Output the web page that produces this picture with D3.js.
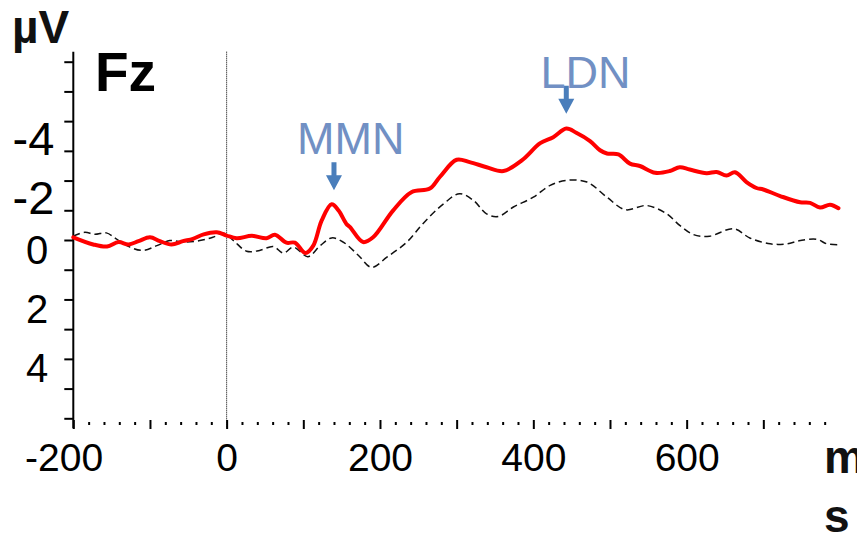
<!DOCTYPE html>
<html>
<head>
<meta charset="utf-8">
<script src="https://cdn.jsdelivr.net/npm/d3@7"></script>
<style>
  html, body { margin: 0; padding: 0; background: #fff; overflow: hidden; }
  svg { display: block; font-family: "Liberation Sans", Arial, sans-serif; }
</style>
</head>
<body>
<div id="chart"></div>
<script>
// deviant (red, thick) waveform, time in ms / amplitude in µV
var redT = [-200,-174,-156,-141,-128,-115,-100,-87,-72,-57,-44,-30,-13,0,13,33,52,63,78,89,
  103,113,124,137,146,156,161,178,191,217,241,265,278,300,317,339,361,385,409,426,
  443,456,474,487,496,511,526,539,559,578,591,604,626,639,652,663,678,691,700,722,
  748,761,774,787,798];
var redUV = [-0.09,0.15,0.22,0.07,0.15,0.04,-0.09,0.04,0.15,0.04,-0.04,-0.19,-0.26,-0.15,-0.06,-0.14,-0.06,-0.18,0.09,0.09,
  0.44,0.19,-0.66,-1.2,-0.99,-0.55,-0.43,0.07,-0.09,-0.99,-1.61,-1.73,-2.12,-2.70,-2.62,-2.45,-2.32,-2.68,-3.26,-3.46,
  -3.75,-3.61,-3.33,-3.02,-2.91,-2.88,-2.57,-2.49,-2.26,-2.32,-2.45,-2.37,-2.25,-2.29,-2.17,-2.28,-1.95,-1.75,-1.70,-1.48,
  -1.27,-1.25,-1.09,-1.19,-1.07];

// standard (black, dashed) waveform
var blackT = [-200,-185,-172,-157,-144,-126,-109,-91,-74,-57,-35,-18,-4,9,26,43,61,74,87,106,
  122,137,152,172,189,209,235,256,283,304,322,339,354,374,400,422,444,470,496,520,
  548,574,591,609,630,661,683,709,730,748,770,783,799];
var blackUV = [-0.13,-0.26,-0.19,-0.24,-0.04,0.24,0.35,0.19,0.02,0.07,0.02,-0.09,-0.23,0.02,0.38,0.35,0.22,0.44,0.24,0.56,
  0.19,-0.07,0.07,0.52,0.92,0.58,0.07,-0.55,-1.22,-1.56,-1.33,-0.88,-0.79,-1.11,-1.44,-1.84,-2.01,-1.95,-1.44,-1.02,
  -1.16,-0.88,-0.49,-0.18,-0.13,-0.38,-0.06,0.13,0.13,0.02,-0.02,0.13,0.16];

// axis ticks
var xTickLabels = [-200, 0, 200, 400, 600];
var xTicks = d3.range(-200, 800, 20);
var yTickLabels = [-4, -2, 0, 2, 4];
var yTicks = d3.range(-6, 7, 1);

// component annotations: label, arrow time (ms), arrow tip (µV), label centre time, label baseline (µV)
var annoLabel = ["MMN", "LDN"];
var annoT = [140, 443];
var annoTipUV = [-1.67, -4.25];
var annoLabelT = [162, 468];
var annoLabelUV = [-2.9, -5.1];

var W = 857, H = 535;

var svg = d3.select("#chart").append("svg")
  .attr("width", W).attr("height", H)
  .attr("viewBox", "0 0 " + W + " " + H);

var x = d3.scaleLinear().domain([-200, 800]).range([73.3, 840]),
  y = d3.scaleLinear().domain([-6, 6]).range([61.7, 418.3]);

var yTop = y.range()[0] - 10, yBot = y.range()[1] + 10;

//y 轴
var yAxis = svg.append("g").attr("transform", "translate(" + x(-200) + ",0)")
  .call(d3.axisLeft(y).tickValues(yTicks).tickSize(9).tickSizeOuter(0)
    .tickFormat(function(d) { return yTickLabels.indexOf(d) >= 0 ? d : ""; }));
yAxis.select(".domain").remove();
yAxis.selectAll(".tick line").attr("stroke", "#000").attr("stroke-width", 2);
yAxis.selectAll(".tick text")
  .attr("fill", "#000")
  .style("font-size", function(d) { return d < 0 ? "47px" : "40px"; })
  .attr("x", function(d) { return d < 0 ? -19 : -25; })
  .attr("dy", function(d) { return d < 0 ? 33 : 23; });
yAxis.append("line")
  .attr("x1", 0).attr("x2", 0).attr("y1", yTop).attr("y2", yBot)
  .attr("stroke", "#000").attr("stroke-width", 2);

//x 轴：点状刻度
var xAxis = svg.append("g").attr("transform", "translate(0," + 420 + ")")
  .call(d3.axisBottom(x).tickValues(xTicks).tickSize(6).tickSizeOuter(0)
    .tickFormat(function(d) { return xTickLabels.indexOf(d) >= 0 ? d : ""; }));
xAxis.select(".domain").remove();
xAxis.selectAll(".tick line")
  .attr("stroke", "#000").attr("stroke-width", 2)
  .attr("y1", function(d) { return d % 100 === 0 ? 0 : 2; })
  .attr("y2", function(d) { return d % 100 === 0 ? 9 : 5; });
xAxis.selectAll(".tick text")
  .attr("fill", "#000")
  .style("font-size", "39px")
  .attr("y", 51).attr("dy", 0)
  .attr("dx", function(d) { return d < 0 ? "-0.25em" : 0; });

// stimulus onset
svg.append("line")
  .attr("x1", x(0)).attr("x2", x(0)).attr("y1", yTop).attr("y2", yBot)
  .attr("stroke", "#000").attr("stroke-width", 1).attr("stroke-dasharray", "1 1");

var line = d3.line()
  .x(function(d) { return x(d[0]); })
  .y(function(d) { return y(d[1]); })
  .curve(d3.curveCatmullRom.alpha(0.5));

svg.append("path")
  .datum(d3.zip(blackT, blackUV))
  .attr("d", line)
  .style("fill", "none").style("stroke", "#111").style("stroke-width", 1.5)
  .style("stroke-dasharray", "7 4");

svg.append("path")
  .datum(d3.zip(redT, redUV))
  .attr("d", line)
  .style("fill", "none").style("stroke", "#ff0000").style("stroke-width", 4)
  .style("stroke-linejoin", "round").style("stroke-linecap", "round");

// annotations
for (var i = 0; i < annoLabel.length; i++) {
  var tx = x(annoT[i]), ty = y(annoTipUV[i]);
  svg.append("path")
    .attr("d", "M" + (tx - 2.5) + "," + (ty - 28) + "V" + (ty - 15) + "H" + (tx - 8) +
      "L" + tx + "," + ty + "L" + (tx + 8) + "," + (ty - 15) + "H" + (tx + 2.5) + "V" + (ty - 28) + "Z")
    .style("fill", "#4a7ebb");
  svg.append("text")
    .attr("x", x(annoLabelT[i])).attr("y", y(annoLabelUV[i]))
    .attr("text-anchor", "middle")
    .style("font-size", "45px").style("fill", "#7190c4")
    .text(annoLabel[i]);
}

// titles
svg.append("text").attr("x", 12).attr("y", 43)
  .style("font-size", "46px").style("font-weight", "bold").style("fill", "#111")
  .text("µV");
svg.append("text").attr("x", 95).attr("y", 91)
  .style("font-size", "55px").style("font-weight", "bold").style("fill", "#000")
  .text("Fz");
svg.append("text").attr("x", 824).attr("y", 473)
  .style("font-size", "46px").style("font-weight", "bold").style("fill", "#111")
  .text("m");
svg.append("text").attr("x", 824).attr("y", 532)
  .style("font-size", "46px").style("font-weight", "bold").style("fill", "#111")
  .text("s");
</script>
</body>
</html>
